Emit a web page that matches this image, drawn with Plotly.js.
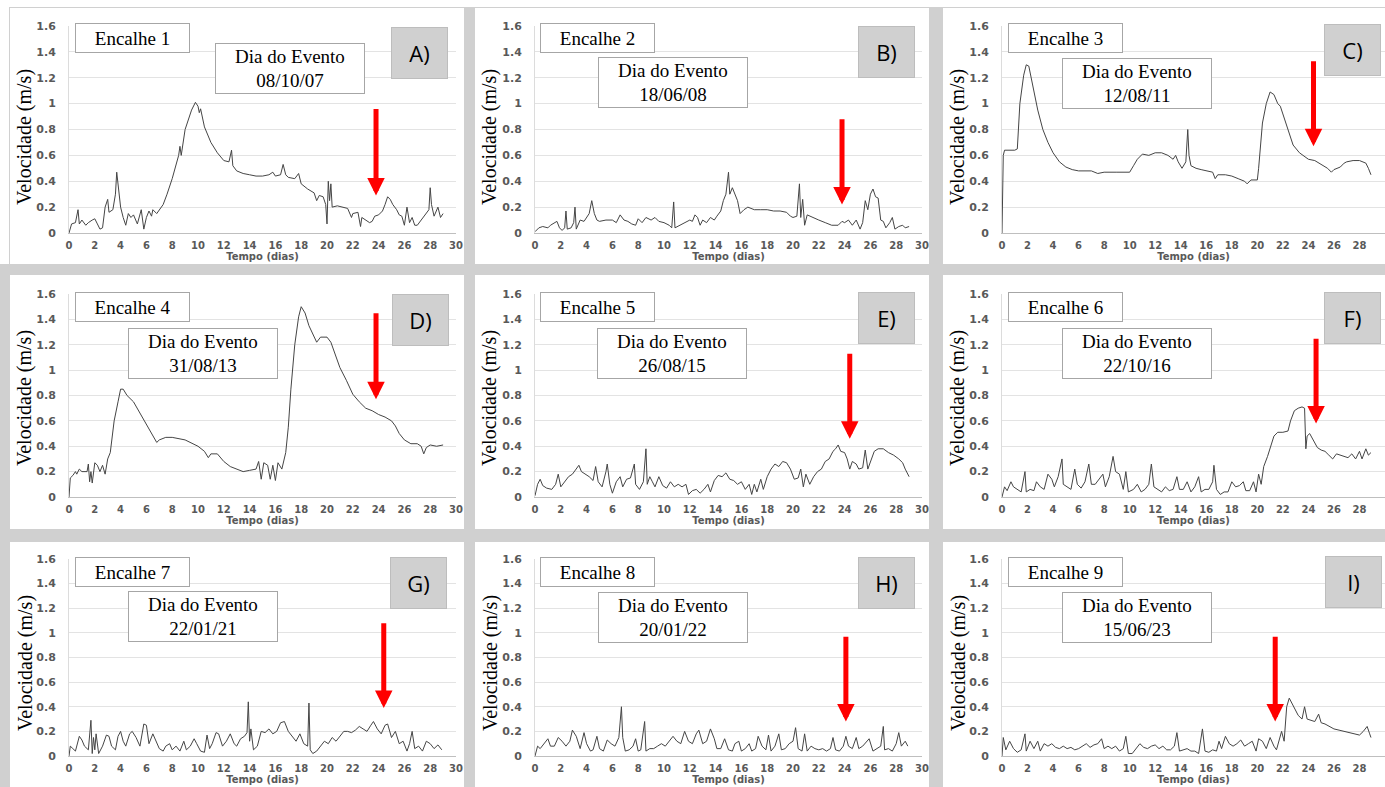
<!DOCTYPE html>
<html><head><meta charset="utf-8">
<script src="https://cdn.plot.ly/plotly-3.0.1.min.js"></script>
<style>html,body{margin:0;padding:0;background:#fff;overflow:hidden}</style>
</head><body><div id="chart" style="width:1385px;height:787px"></div>
<script>
// ---------------- DATA ----------------
const panelLetters = ["A)","B)","C)","D)","E)","F)","G)","H)","I)"];
const encalheNames = ["Encalhe 1","Encalhe 2","Encalhe 3","Encalhe 4","Encalhe 5","Encalhe 6","Encalhe 7","Encalhe 8","Encalhe 9"];
const eventDates = ["08/10/07","18/06/08","12/08/11","31/08/13","26/08/15","22/10/16","22/01/21","20/01/22","15/06/23"];
const xTickVals = [0,2,4,6,8,10,12,14,16,18,20,22,24,26,28,30];
const yTickVals = [0,0.2,0.4,0.6,0.8,1,1.2,1.4,1.6];
const yTitle = "Velocidade (m/s)";
const xTitle = "Tempo (dias)";
// arrow: [day, tip velocity, tail velocity]
const eventArrows = [[23.8,0.29,0.97],[23.8,0.22,0.89],[24.4,0.67,1.34],[23.8,0.77,1.46],[24.4,0.46,1.14],[24.6,0.58,1.26],[24.4,0.39,1.09],[24.1,0.28,0.98],[21.4,0.28,0.98]];

// [tempo (dias), velocidade (m/s)]
const encalhe1 = [[0,0],[0.2,0.07],[0.5,0.08],[0.7,0.18],[0.8,0.07],[1,0.1],[1.3,0.06],[1.5,0.08],[1.8,0.1],[2,0.11],[2.2,0.07],[2.4,0.03],[2.6,0.04],[2.8,0.2],[3.0,0.26],[3.1,0.16],[3.4,0.18],[3.6,0.3],[3.7,0.47],[3.85,0.34],[4,0.2],[4.2,0.12],[4.4,0.06],[4.6,0.15],[4.8,0.12],[5,0.14],[5.3,0.07],[5.6,0.18],[5.8,0.03],[6,0.12],[6.2,0.17],[6.4,0.13],[6.5,0.18],[6.8,0.15],[7,0.18],[7.3,0.22],[7.6,0.3],[8,0.42],[8.5,0.6],[8.6,0.67],[8.7,0.6],[9,0.8],[9.5,0.95],[9.8,1.01],[10,0.98],[10.1,0.93],[10.2,0.96],[10.5,0.82],[11,0.7],[11.5,0.62],[12,0.56],[12.4,0.55],[12.6,0.64],[12.7,0.52],[13,0.48],[13.5,0.46],[14,0.45],[14.5,0.44],[15,0.44],[15.5,0.45],[15.8,0.47],[16,0.44],[16.4,0.45],[16.6,0.53],[16.8,0.45],[17,0.43],[17.5,0.42],[17.8,0.46],[18,0.38],[18.5,0.34],[19,0.31],[19.2,0.25],[19.4,0.29],[19.7,0.28],[19.9,0.22],[20,0.07],[20.1,0.4],[20.2,0.25],[20.3,0.38],[20.4,0.2],[20.8,0.21],[21.2,0.2],[21.6,0.19],[21.9,0.12],[22,0.15],[22.4,0.16],[22.6,0.05],[22.7,0.12],[23,0.1],[23.3,0.08],[23.5,0.09],[23.7,0.13],[24,0.14],[24.3,0.17],[24.5,0.22],[24.7,0.28],[24.9,0.26],[25.1,0.22],[25.4,0.18],[25.6,0.14],[25.8,0.13],[26,0.06],[26.2,0.2],[26.4,0.08],[26.6,0.12],[26.8,0.06],[27,0.06],[27.3,0.1],[27.6,0.14],[27.9,0.18],[28,0.35],[28.1,0.22],[28.3,0.13],[28.6,0.2],[28.8,0.12],[29,0.15]];

const encalhe2 = [[0,0.01],[0.3,0.04],[0.6,0.05],[1,0.04],[1.2,0.06],[1.5,0.08],[1.7,0.09],[1.9,0.04],[2.1,0.02],[2.3,0.04],[2.4,0.17],[2.5,0.03],[2.8,0.04],[3.0,0.08],[3.1,0.2],[3.2,0.03],[3.5,0.1],[3.8,0.09],[4.0,0.12],[4.2,0.15],[4.4,0.25],[4.6,0.15],[4.8,0.1],[5,0.09],[5.5,0.1],[6,0.1],[6.3,0.08],[6.6,0.14],[6.9,0.1],[7.2,0.09],[7.5,0.07],[7.8,0.06],[8,0.11],[8.3,0.08],[8.6,0.12],[9,0.1],[9.3,0.12],[9.6,0.09],[10,0.08],[10.4,0.06],[10.6,0.04],[10.75,0.24],[10.85,0.04],[11.2,0.06],[11.6,0.08],[12,0.1],[12.2,0.09],[12.4,0.14],[12.6,0.12],[12.8,0.06],[13,0.1],[13.3,0.08],[13.6,0.12],[13.9,0.1],[14.1,0.13],[14.4,0.17],[14.6,0.25],[14.8,0.3],[15.0,0.47],[15.1,0.3],[15.3,0.35],[15.5,0.3],[15.7,0.25],[15.9,0.15],[16.2,0.18],[16.5,0.2],[17,0.18],[17.5,0.18],[18,0.18],[18.5,0.17],[19,0.17],[19.5,0.16],[19.8,0.13],[20,0.12],[20.3,0.13],[20.5,0.38],[20.6,0.12],[20.75,0.26],[20.9,0.06],[21.1,0.14],[21.5,0.12],[22,0.1],[22.5,0.08],[23,0.06],[23.5,0.06],[23.8,0.09],[24,0.08],[24.3,0.1],[24.6,0.06],[24.9,0.1],[25.2,0.03],[25.4,0.08],[25.6,0.25],[25.8,0.18],[26,0.3],[26.2,0.34],[26.4,0.28],[26.6,0.27],[26.8,0.1],[27,0.09],[27.2,0.04],[27.5,0.08],[27.7,0.12],[27.9,0.03],[28.2,0.05],[28.5,0.06],[28.7,0.04],[29,0.05]];

const encalhe3 = [[0,0],[0.1,0.6],[0.2,0.64],[0.5,0.64],[1.0,0.64],[1.2,0.65],[1.4,1.0],[1.7,1.22],[1.9,1.3],[2.1,1.29],[2.4,1.15],[2.8,0.95],[3.2,0.8],[3.6,0.7],[4,0.62],[4.5,0.55],[5,0.51],[5.5,0.49],[6,0.48],[7,0.48],[7.5,0.46],[8,0.47],[9,0.47],[9.5,0.47],[10,0.47],[10.3,0.52],[10.6,0.57],[11,0.61],[11.5,0.6],[12,0.62],[12.5,0.62],[13,0.6],[13.4,0.57],[13.6,0.6],[13.8,0.55],[14.1,0.5],[14.4,0.55],[14.55,0.8],[14.65,0.6],[14.8,0.52],[15.2,0.5],[15.6,0.49],[16,0.48],[16.5,0.47],[16.7,0.42],[16.9,0.45],[17.5,0.45],[18,0.44],[18.5,0.42],[19,0.4],[19.2,0.38],[19.5,0.41],[20,0.41],[20.1,0.5],[20.4,0.85],[20.7,1.0],[21,1.09],[21.3,1.07],[21.6,1.0],[21.8,0.98],[22,0.92],[22.4,0.8],[22.8,0.68],[23.3,0.62],[24,0.57],[24.5,0.56],[25,0.53],[25.5,0.5],[25.8,0.47],[26,0.49],[26.5,0.51],[26.8,0.54],[27,0.55],[27.5,0.56],[28,0.56],[28.5,0.54],[28.7,0.5],[28.9,0.45]];

const encalhe4 = [[0,0],[0.1,0.15],[0.3,0.17],[0.5,0.2],[0.6,0.18],[0.8,0.22],[1,0.2],[1.4,0.2],[1.5,0.26],[1.6,0.12],[1.7,0.2],[1.8,0.11],[2,0.27],[2.2,0.25],[2.4,0.2],[2.6,0.25],[2.8,0.18],[3,0.3],[3.2,0.35],[3.5,0.6],[3.8,0.75],[4.0,0.85],[4.2,0.85],[4.5,0.8],[5,0.75],[5.5,0.66],[6,0.57],[6.5,0.48],[6.8,0.43],[7,0.45],[7.5,0.47],[8,0.47],[9,0.45],[10,0.4],[10.5,0.36],[10.8,0.31],[11,0.34],[11.5,0.34],[11.8,0.3],[12,0.28],[12.5,0.24],[13,0.22],[13.5,0.2],[14,0.21],[14.5,0.22],[14.7,0.28],[14.9,0.14],[15.1,0.27],[15.4,0.25],[15.6,0.14],[15.8,0.25],[16,0.13],[16.2,0.27],[16.5,0.22],[16.8,0.35],[17,0.55],[17.2,0.85],[17.5,1.2],[17.8,1.42],[18.0,1.5],[18.3,1.45],[18.6,1.35],[19,1.27],[19.2,1.22],[19.5,1.26],[20,1.26],[20.3,1.22],[20.7,1.1],[21,1.02],[21.5,0.92],[22,0.81],[22.5,0.75],[23,0.7],[23.5,0.68],[24,0.65],[24.5,0.63],[25,0.6],[25.3,0.56],[25.6,0.5],[26,0.45],[26.5,0.42],[27,0.42],[27.3,0.4],[27.5,0.34],[27.7,0.39],[28,0.41],[28.5,0.4],[29,0.41]];

const encalhe5 = [[0,0.01],[0.2,0.1],[0.4,0.14],[0.6,0.09],[0.9,0.07],[1.3,0.06],[1.6,0.1],[1.8,0.18],[2,0.08],[2.3,0.12],[2.6,0.16],[2.9,0.18],[3.2,0.22],[3.4,0.25],[3.6,0.2],[3.9,0.18],[4.2,0.16],[4.5,0.13],[4.7,0.24],[4.9,0.12],[5.2,0.08],[5.5,0.2],[5.6,0.26],[5.8,0.1],[6,0.03],[6.3,0.12],[6.6,0.16],[6.8,0.08],[7.1,0.14],[7.4,0.15],[7.7,0.26],[7.8,0.1],[8.1,0.06],[8.4,0.12],[8.6,0.38],[8.7,0.1],[8.9,0.16],[9.1,0.12],[9.3,0.08],[9.6,0.16],[9.9,0.09],[10.2,0.07],[10.5,0.12],[10.8,0.08],[11.1,0.1],[11.4,0.08],[11.7,0.1],[11.9,0.02],[12.2,0.05],[12.5,0.06],[12.8,0.03],[13.1,0.06],[13.4,0.1],[13.6,0.04],[13.9,0.13],[14.2,0.17],[14.5,0.16],[14.8,0.19],[15.1,0.14],[15.4,0.13],[15.7,0.1],[16,0.12],[16.3,0.06],[16.6,0.1],[16.8,0.02],[17,0.1],[17.2,0.04],[17.5,0.14],[17.7,0.06],[18,0.16],[18.3,0.22],[18.6,0.26],[18.9,0.24],[19.2,0.28],[19.5,0.27],[19.8,0.22],[20.1,0.14],[20.4,0.15],[20.6,0.22],[20.8,0.08],[21.0,0.18],[21.3,0.1],[21.6,0.16],[21.9,0.2],[22.2,0.22],[22.5,0.28],[22.8,0.3],[23.1,0.36],[23.3,0.38],[23.5,0.41],[23.7,0.36],[24,0.35],[24.2,0.3],[24.4,0.22],[24.6,0.28],[24.9,0.26],[25.1,0.22],[25.4,0.23],[25.6,0.37],[25.8,0.22],[26,0.28],[26.3,0.36],[26.6,0.38],[27,0.38],[27.4,0.35],[27.8,0.33],[28.2,0.3],[28.5,0.27],[28.7,0.22],[29,0.16]];

const encalhe6 = [[0,0],[0.2,0.08],[0.4,0.05],[0.7,0.12],[0.9,0.08],[1.2,0.06],[1.5,0.04],[1.8,0.2],[1.9,0.04],[2.2,0.06],[2.5,0.05],[2.7,0.12],[3,0.08],[3.3,0.06],[3.6,0.18],[3.9,0.14],[4.1,0.08],[4.4,0.16],[4.7,0.3],[4.8,0.1],[5.1,0.08],[5.4,0.06],[5.7,0.22],[5.9,0.1],[6.2,0.07],[6.5,0.12],[6.8,0.26],[7.0,0.1],[7.3,0.1],[7.6,0.14],[7.9,0.18],[8.1,0.08],[8.4,0.16],[8.7,0.32],[8.9,0.2],[9.2,0.18],[9.5,0.06],[9.7,0.2],[9.9,0.04],[10.3,0.06],[10.6,0.1],[10.9,0.04],[11.2,0.06],[11.5,0.1],[11.7,0.26],[11.9,0.08],[12.2,0.06],[12.5,0.04],[12.8,0.08],[13.1,0.05],[13.4,0.06],[13.7,0.16],[13.9,0.06],[14.2,0.06],[14.5,0.12],[14.8,0.04],[15.1,0.08],[15.4,0.16],[15.6,0.04],[15.9,0.06],[16.2,0.06],[16.5,0.12],[16.6,0.25],[16.8,0.06],[17.1,0.02],[17.4,0.04],[17.7,0.04],[18,0.12],[18.3,0.08],[18.6,0.09],[18.9,0.12],[19.1,0.05],[19.4,0.05],[19.7,0.12],[19.9,0.04],[20.1,0.18],[20.3,0.1],[20.5,0.24],[20.8,0.32],[21.1,0.42],[21.3,0.48],[21.6,0.51],[22,0.51],[22.4,0.52],[22.6,0.6],[22.9,0.68],[23.2,0.7],[23.5,0.71],[23.7,0.7],[23.8,0.38],[23.9,0.48],[24.1,0.5],[24.4,0.44],[24.7,0.39],[25,0.37],[25.3,0.36],[25.6,0.33],[25.9,0.3],[26.2,0.34],[26.5,0.33],[26.8,0.32],[27.1,0.31],[27.4,0.34],[27.7,0.3],[28,0.36],[28.2,0.3],[28.5,0.38],[28.7,0.33],[28.9,0.35]];

const encalhe7 = [[0,0],[0.1,0.08],[0.3,0.06],[0.5,0.04],[0.8,0.16],[1.0,0.13],[1.2,0.08],[1.5,0.05],[1.7,0.29],[1.8,0.02],[1.9,0.15],[2.0,0.05],[2.1,0.18],[2.3,0.02],[2.6,0.08],[2.9,0.17],[3.1,0.16],[3.3,0.08],[3.6,0.05],[3.8,0.16],[4.0,0.2],[4.2,0.12],[4.4,0.08],[4.7,0.18],[4.9,0.2],[5.2,0.15],[5.5,0.08],[5.8,0.26],[6.0,0.25],[6.2,0.1],[6.5,0.18],[6.8,0.1],[7.0,0.06],[7.3,0.04],[7.5,0.08],[7.8,0.1],[8.0,0.05],[8.3,0.08],[8.6,0.04],[8.9,0.12],[9.1,0.05],[9.4,0.08],[9.7,0.14],[9.9,0.1],[10.2,0.04],[10.5,0.03],[10.7,0.17],[10.9,0.06],[11.1,0.1],[11.4,0.19],[11.6,0.18],[11.9,0.08],[12.2,0.12],[12.5,0.18],[12.8,0.1],[13.0,0.08],[13.3,0.14],[13.6,0.16],[13.8,0.19],[13.9,0.44],[14.0,0.12],[14.1,0.22],[14.3,0.05],[14.6,0.08],[14.9,0.2],[15.2,0.19],[15.5,0.22],[15.8,0.18],[16.1,0.2],[16.4,0.27],[16.7,0.28],[17.0,0.2],[17.3,0.16],[17.6,0.12],[17.9,0.18],[18.2,0.1],[18.5,0.08],[18.6,0.43],[18.7,0.05],[18.9,0.02],[19.2,0.04],[19.5,0.08],[19.8,0.12],[20.1,0.1],[20.4,0.15],[20.7,0.12],[21,0.16],[21.3,0.2],[21.6,0.2],[21.9,0.19],[22.2,0.21],[22.5,0.24],[22.8,0.22],[23.1,0.2],[23.4,0.25],[23.6,0.28],[23.9,0.22],[24.2,0.18],[24.5,0.25],[24.7,0.26],[25,0.15],[25.3,0.2],[25.6,0.1],[25.9,0.12],[26.2,0.04],[26.4,0.1],[26.6,0.2],[26.8,0.06],[27.1,0.08],[27.4,0.04],[27.7,0.12],[28,0.1],[28.3,0.06],[28.6,0.09],[28.9,0.05]];

const encalhe8 = [[0,0],[0.2,0.08],[0.4,0.06],[0.7,0.1],[1.0,0.14],[1.2,0.08],[1.5,0.08],[1.8,0.15],[2.1,0.12],[2.4,0.08],[2.7,0.12],[2.9,0.21],[3.2,0.16],[3.5,0.06],[3.8,0.19],[4.0,0.1],[4.3,0.04],[4.5,0.05],[4.8,0.16],[5.0,0.06],[5.3,0.04],[5.6,0.13],[5.9,0.1],[6.2,0.08],[6.5,0.15],[6.7,0.4],[6.8,0.15],[7.0,0.04],[7.3,0.05],[7.6,0.08],[7.8,0.14],[8.0,0.04],[8.2,0.05],[8.5,0.28],[8.6,0.04],[8.9,0.06],[9.2,0.06],[9.5,0.08],[9.8,0.1],[10.1,0.08],[10.4,0.12],[10.7,0.16],[11.0,0.12],[11.3,0.1],[11.6,0.2],[11.9,0.12],[12.2,0.1],[12.5,0.18],[12.7,0.21],[13.0,0.1],[13.3,0.12],[13.6,0.22],[13.9,0.14],[14.1,0.06],[14.4,0.06],[14.7,0.14],[15.0,0.05],[15.3,0.04],[15.5,0.1],[15.8,0.12],[16.0,0.04],[16.3,0.06],[16.6,0.1],[16.8,0.04],[17.1,0.06],[17.3,0.16],[17.6,0.08],[17.9,0.05],[18.1,0.17],[18.3,0.04],[18.6,0.08],[18.9,0.18],[19.1,0.05],[19.4,0.06],[19.7,0.1],[20.0,0.12],[20.2,0.23],[20.4,0.06],[20.7,0.04],[20.9,0.18],[21.1,0.04],[21.4,0.08],[21.7,0.06],[22.0,0.05],[22.3,0.06],[22.6,0.04],[22.9,0.06],[23.1,0.15],[23.3,0.05],[23.6,0.04],[23.9,0.08],[24.1,0.16],[24.3,0.08],[24.6,0.06],[24.9,0.15],[25.1,0.06],[25.4,0.08],[25.7,0.12],[25.9,0.14],[26.2,0.04],[26.5,0.06],[26.8,0.08],[27.0,0.24],[27.1,0.05],[27.4,0.06],[27.7,0.04],[28.0,0.1],[28.2,0.19],[28.4,0.08],[28.7,0.12],[28.9,0.08]];

const encalhe9 = [[0,0],[0.1,0.15],[0.3,0.05],[0.6,0.12],[0.9,0.06],[1.2,0.03],[1.5,0.05],[1.8,0.18],[1.9,0.04],[2.2,0.12],[2.5,0.06],[2.8,0.12],[3.0,0.04],[3.3,0.1],[3.6,0.08],[3.9,0.1],[4.2,0.07],[4.5,0.06],[4.8,0.08],[5.1,0.06],[5.4,0.07],[5.7,0.05],[6.0,0.06],[6.3,0.08],[6.6,0.1],[6.9,0.07],[7.2,0.09],[7.5,0.1],[7.8,0.14],[8.0,0.06],[8.3,0.08],[8.6,0.06],[8.9,0.08],[9.2,0.04],[9.5,0.06],[9.7,0.16],[9.9,0.02],[10.2,0.02],[10.5,0.06],[10.8,0.1],[11.1,0.07],[11.4,0.06],[11.7,0.08],[12.0,0.09],[12.3,0.06],[12.6,0.08],[12.9,0.05],[13.2,0.05],[13.5,0.08],[13.7,0.19],[13.9,0.04],[14.2,0.05],[14.5,0.06],[14.8,0.04],[15.1,0.04],[15.4,0.02],[15.6,0.14],[15.7,0.22],[15.9,0.04],[16.2,0.03],[16.5,0.05],[16.8,0.04],[17.0,0.12],[17.2,0.06],[17.5,0.16],[17.8,0.1],[18.1,0.08],[18.4,0.1],[18.7,0.13],[19.0,0.08],[19.3,0.1],[19.6,0.12],[19.9,0.04],[20.1,0.14],[20.4,0.12],[20.7,0.06],[21.0,0.15],[21.3,0.08],[21.5,0.05],[21.7,0.12],[21.9,0.2],[22.1,0.12],[22.3,0.4],[22.5,0.47],[22.7,0.43],[22.9,0.38],[23.2,0.33],[23.5,0.3],[23.7,0.4],[23.9,0.3],[24.2,0.29],[24.5,0.28],[24.8,0.34],[25.0,0.27],[25.3,0.26],[25.7,0.24],[26.0,0.22],[26.4,0.21],[26.8,0.2],[27.2,0.19],[27.6,0.18],[28.0,0.17],[28.3,0.2],[28.6,0.24],[28.8,0.18],[28.9,0.15]];

const allSeries = [encalhe1,encalhe2,encalhe3,encalhe4,encalhe5,encalhe6,encalhe7,encalhe8,encalhe9];

// ---------------- LAYOUT GEOMETRY (pixels) ----------------
const W = 1385, H = 787;
const px = x => x / W, py = y => 1 - y / H;
const colGeo = [{x0:69,x1:456},{x0:535,x1:922},{x0:1002,x1:1385}];
const rowGeo = [{y0:233,y1:26},{y0:497,y1:294},{y0:756,y1:559}];
const yTitlePos = { xs:[25,490,958], ys:[137,398,663] };
const panelRects = { xs:[[10,464],[475,929],[943,1385]], ys:[[8,264],[275,529],[542,787]] };
const encBox = { xs:[75,540,1008], ys:[23,292,557], w:115, h:30 };
const diaBox = [[215,43],[598,57],[1062,58],[128,328],[597,328],[1062,328],[128,591],[598,592],[1062,592]];
const lblBox = [[391,27],[858,26],[1324,24],[392,294],[858,292],[1324,292],[390,557],[858,557],[1325,556]];

const xTickFont = {family:'DejaVu Sans', size:10, color:'#595959', weight:'bold'};
const yTickFont = {family:'DejaVu Sans', size:11, color:'#595959', weight:'bold'};
const serif = 'Liberation Serif';

const traces = [], layout = {
  width: W, height: H, margin:{l:0,r:0,t:0,b:0},
  paper_bgcolor:'#d0d0d0', plot_bgcolor:'rgba(0,0,0,0)',
  showlegend:false, shapes:[], annotations:[]
};

// white background strips and panels
layout.shapes.push({type:'rect', xref:'paper', yref:'paper', x0:0, x1:1, y0:py(0), y1:py(7), fillcolor:'#ffffff', line:{width:0}, layer:'below'});
layout.shapes.push({type:'rect', xref:'paper', yref:'paper', x0:0, x1:px(9), y0:py(0), y1:py(264), fillcolor:'#ffffff', line:{width:0}, layer:'below'});
for (let r=0;r<3;r++) for (let c=0;c<3;c++) {
  layout.shapes.push({type:'rect', xref:'paper', yref:'paper',
    x0:px(panelRects.xs[c][0]), x1:px(panelRects.xs[c][1]),
    y0:py(panelRects.ys[r][1]), y1:py(panelRects.ys[r][0]),
    fillcolor:'#ffffff', line:{width:0}, layer:'below'});
}

allSeries.forEach((ser, i) => {
  const r = Math.floor(i/3), c = i%3, n = i+1;
  const xa = 'x'+(n===1?'':n), ya = 'y'+(n===1?'':n);
  traces.push({
    x: ser.map(p=>p[0]), y: ser.map(p=>p[1]),
    xaxis: xa, yaxis: ya, type:'scatter', mode:'lines',
    line:{color:'#454545', width:1}, hoverinfo:'x+y'
  });
  layout['xaxis'+(n===1?'':n)] = {
    domain:[px(colGeo[c].x0), Math.min(1, px(colGeo[c].x1))], anchor: ya,
    range:[0,30], tickvals:xTickVals, ticktext:xTickVals.map(String), showgrid:false, zeroline:false,
    showline:true, linecolor:'#bfbfbf', linewidth:1, ticks:'', tickfont:xTickFont, ticklabelstandoff:3,
    title:{text:xTitle, font:{family:'DejaVu Sans', size:10, color:'#595959', weight:'bold'}, standoff:2},
    fixedrange:true
  };
  layout['yaxis'+(n===1?'':n)] = {
    domain:[py(rowGeo[r].y0), py(rowGeo[r].y1)], anchor: xa,
    range:[0,1.6], tickvals:yTickVals, ticktext:yTickVals.map(String), showgrid:true, gridcolor:'#e3e3e3', gridwidth:1,
    zeroline:false, showline:true, linecolor:'#dcdcdc', ticks:'', tickfont:yTickFont, ticklabelstandoff:10,
    fixedrange:true
  };
  // y axis title (serif, rotated)
  layout.annotations.push({xref:'paper', yref:'paper', x:px(yTitlePos.xs[c]), y:py(yTitlePos.ys[r]), xanchor:'center', yanchor:'middle',
    text:yTitle, textangle:-90, showarrow:false, font:{family:serif, size:20, color:'#000000'}});
  // Encalhe box
  layout.annotations.push({xref:'paper', yref:'paper', x:px(encBox.xs[c]), y:py(encBox.ys[r]), xanchor:'left', yanchor:'top',
    text:encalheNames[i], showarrow:false, width:encBox.w-2, height:encBox.h-2, borderpad:0,
    bgcolor:'#ffffff', bordercolor:'#a6a6a6', borderwidth:1, font:{family:serif, size:19, color:'#000000'}});
  // Dia do Evento box
  layout.annotations.push({xref:'paper', yref:'paper', x:px(diaBox[i][0]), y:py(diaBox[i][1]), xanchor:'left', yanchor:'top',
    text:'Dia do Evento<br>'+eventDates[i], showarrow:false, width:148, height:49, borderpad:0,
    bgcolor:'#ffffff', bordercolor:'#a6a6a6', borderwidth:1, font:{family:serif, size:19, color:'#000000'}});
  // Letter box
  layout.annotations.push({xref:'paper', yref:'paper', x:px(lblBox[i][0]), y:py(lblBox[i][1]), xanchor:'left', yanchor:'top',
    text:panelLetters[i], showarrow:false, width:55, height:50, borderpad:0,
    bgcolor:'#d0d0d0', bordercolor:'#bdbdbd', borderwidth:1, font:{family:'Open Sans, Liberation Sans, sans-serif', size:22, color:'#000000'}});
  // red arrow
  const a = eventArrows[i];
  layout.annotations.push({xref:xa, yref:ya, axref:xa, ayref:ya, x:a[0], y:a[1], ax:a[0], ay:a[2],
    text:'', showarrow:true, arrowhead:2, arrowsize:0.7, arrowwidth:5, arrowcolor:'#ff0000', standoff:0});
});

Plotly.newPlot('chart', traces, layout, {displayModeBar:false, staticPlot:true});
</script></body></html>
